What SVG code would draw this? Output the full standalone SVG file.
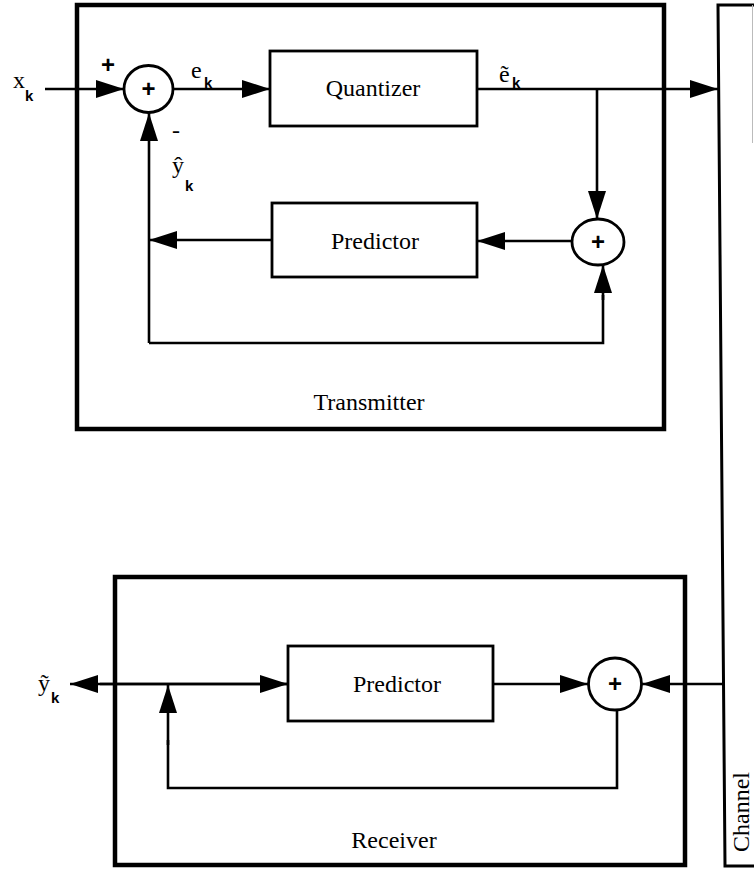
<svg xmlns="http://www.w3.org/2000/svg" width="754" height="871" viewBox="0 0 754 871">
<style>
.frame{fill:none;stroke:#000;stroke-width:4.5}
.box{fill:none;stroke:#000;stroke-width:2.8}
.sum{fill:#fff;stroke:#000;stroke-width:2.8}
.wire{fill:none;stroke:#000;stroke-width:2.6}
.lbl{font-family:"Liberation Serif","Times New Roman",serif;font-size:24px;fill:#000}
.sym{font-family:"Liberation Serif","Times New Roman",serif;font-size:24px;fill:#000}
.sub{font-family:"Liberation Sans",Arial,sans-serif;font-size:15px;font-weight:bold;fill:#000}
.plus{font-family:"Liberation Sans",Arial,sans-serif;font-size:24px;font-weight:bold;fill:#000;text-anchor:middle}
.mid{text-anchor:middle}
</style>
<defs>
<marker id="ah" markerUnits="userSpaceOnUse" markerWidth="28" markerHeight="18" refX="28" refY="9" orient="auto">
<path d="M0,0 L28,9 L0,18 z" fill="#000"/>
</marker>
</defs>
<rect width="754" height="871" fill="#fff"/>

<g id="transmitter">
<rect class="frame" x="77" y="5" width="587" height="424"/>
<text class="lbl mid" x="369" y="410">Transmitter</text>
</g>

<g id="receiver">
<rect class="frame" x="115" y="577" width="570" height="288"/>
<text class="lbl mid" x="394" y="848">Receiver</text>
</g>

<g id="channel">
<path d="M754,5 L718,5 L725,866 L754,866" fill="none" stroke="#000" stroke-width="3"/>
<line x1="752.5" y1="5" x2="752.5" y2="143" stroke="#bbb" stroke-width="1"/>
<text class="lbl mid" transform="translate(749,812) rotate(-90)">Channel</text>
</g>

<g id="sum1">
<ellipse class="sum" cx="148.5" cy="89" rx="24.5" ry="23.5"/>
<text class="plus" x="148.5" y="97">+</text>
</g>

<g id="quantizer">
<rect class="box" x="270" y="51" width="207" height="75"/>
<text class="lbl mid" x="373" y="96">Quantizer</text>
</g>

<g id="sum2">
<ellipse class="sum" cx="598" cy="242" rx="26" ry="23"/>
<text class="plus" x="598" y="250">+</text>
</g>

<g id="predictor-tx">
<rect class="box" x="272" y="203" width="205" height="74"/>
<text class="lbl mid" x="375" y="249">Predictor</text>
</g>

<g id="predictor-rx">
<rect class="box" x="288" y="646" width="205" height="75"/>
<text class="lbl mid" x="397" y="692">Predictor</text>
</g>

<g id="sum3">
<ellipse class="sum" cx="615" cy="684" rx="26.5" ry="26"/>
<text class="plus" x="615" y="692">+</text>
</g>

<g id="connectors">
<line class="wire" x1="45" y1="89" x2="124" y2="89" marker-end="url(#ah)"/>
<line class="wire" x1="173" y1="89" x2="270" y2="89" marker-end="url(#ah)"/>
<line class="wire" x1="477" y1="89" x2="718" y2="89" marker-end="url(#ah)"/>
<line class="wire" x1="597" y1="89" x2="597" y2="219" marker-end="url(#ah)"/>
<line class="wire" x1="572" y1="241" x2="477" y2="241" marker-end="url(#ah)"/>
<line class="wire" x1="272" y1="240" x2="149" y2="240" marker-end="url(#ah)"/>
<path class="wire" d="M149,240 L149,343"/>
<line class="wire" x1="149" y1="240" x2="149" y2="113" marker-end="url(#ah)"/>
<path class="wire" d="M149,343 L603,343 L603,295"/>
<line class="wire" x1="603" y1="300" x2="603" y2="265" marker-end="url(#ah)"/>

<line class="wire" x1="288" y1="684" x2="70" y2="684" marker-end="url(#ah)"/>
<line class="wire" x1="100" y1="684" x2="288" y2="684" marker-end="url(#ah)"/>
<path class="wire" d="M617,710 L617,788 L168,788 L168,740"/>
<line class="wire" x1="168" y1="745" x2="168" y2="685" marker-end="url(#ah)"/>
<line class="wire" x1="493" y1="684" x2="588" y2="684" marker-end="url(#ah)"/>
<line class="wire" x1="723" y1="684" x2="642" y2="684" marker-end="url(#ah)"/>
</g>

<g id="labels">
<text class="sym" x="13" y="88">x</text><text class="sub" x="25" y="101">k</text>
<text class="plus" x="108" y="73" font-size="22">+</text>
<text class="sym" x="172" y="138" font-size="18">-</text>
<text class="sym" x="172" y="173">ŷ</text><text class="sub" x="185" y="191">k</text>
<text class="sym" x="191" y="78">e</text><text class="sub" x="204" y="88">k</text>
<text class="sym" x="499" y="82">ẽ</text><text class="sub" x="512" y="88">k</text>
<text class="sym" x="38" y="691">ỹ</text><text class="sub" x="51" y="703">k</text>
</g>
</svg>
